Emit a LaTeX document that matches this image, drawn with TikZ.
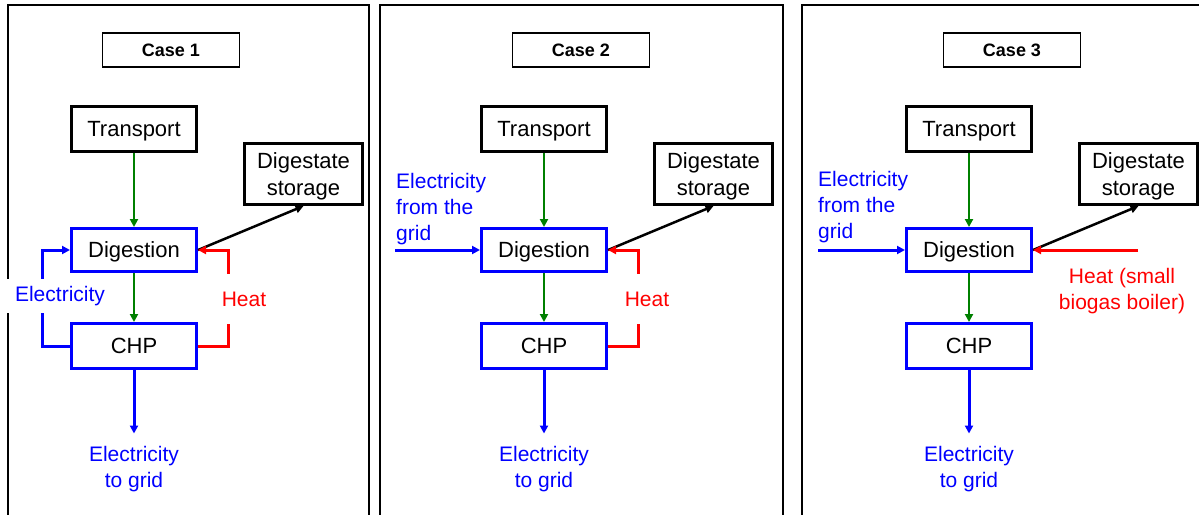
\documentclass[tikz,border=0pt]{standalone}
\usepackage{fontspec}
\setmainfont{Liberation Sans}
\usetikzlibrary{arrows.meta}
\definecolor{cblue}{RGB}{0,0,255}
\definecolor{cgreen}{RGB}{0,128,0}
\definecolor{cred}{RGB}{255,0,0}
\begin{document}
\begin{tikzpicture}[x=1pt,y=-1pt,
  frame/.style={draw=black, line width=1.5pt},
  casebox/.style={draw=black, line width=1.2pt, minimum width=137pt, minimum height=34pt, font=\fontsize{18}{22}\selectfont\bfseries, inner sep=0pt, text depth=0pt},
  blackbox/.style={draw=black, line width=3pt, minimum width=125pt, minimum height=45pt, font=\fontsize{22}{27}\selectfont, align=center, inner sep=0pt, text depth=0pt},
  bluebox/.style={draw=cblue, line width=3pt, minimum width=125pt, minimum height=43pt, font=\fontsize{22}{27}\selectfont, inner sep=0pt, text depth=0pt},
  lbl/.style={font=\fontsize{21}{26}\selectfont, align=center, inner sep=0pt},
  tipx/.style={-{Triangle[length=8pt,width=8pt]}},
  garrow/.style={draw=cgreen, line width=2pt, tipx},
  barrow/.style={draw=cblue, line width=3pt, tipx},
  rarrow/.style={draw=cred, line width=3pt, tipx},
  karrow/.style={draw=black, line width=2.5pt, tipx}
]
\useasboundingbox (0,0) rectangle (1199,514);
\begin{scope}
  \clip (0,0) rectangle (1199,514);
  \draw[frame] (8,5) rectangle (369,540);
  \draw[frame] (380,5) rectangle (783,540);
  \draw[frame] (802,5) rectangle (1230,540);
\end{scope}

\foreach \o/\n/\cx in {0/1/171, 410/2/581, 835/3/1012}{
  \node[casebox] (case\n) at (\cx,50) {Case \n};
  \node[blackbox] (t\n) at (\o+134,129) {Transport};
  \node[blackbox, minimum width=118pt, minimum height=61pt] (s\n) at (\o+303.5,174) {Digestate\\storage};
  \node[bluebox] (d\n) at (\o+134,250) {Digestion};
  \node[bluebox, minimum height=45pt] (c\n) at (\o+134,346) {CHP};
  \node[lbl, text=cblue, inner ysep=12.5pt] (g\n) at (\o+134,469) {Electricity\\to grid};
  \draw[garrow] (t\n) -- (d\n);
  \draw[garrow] (d\n) -- (c\n);
  \draw[barrow] (c\n) -- (g\n);
  \draw[karrow] (d\n.east) -- (s\n.south);
}

% Case 1 loops
\coordinate (e1) at (42,298);
\draw[barrow] (c1.west) -| (e1) |- (d1.west);
\node[lbl, text=cblue, fill=white, inner xsep=8pt, inner ysep=7pt] (el1) at (60,296) {Electricity};
\coordinate (h1) at (228,298);
\draw[rarrow] (c1.east) -| (h1) |- (d1.east);
\node[lbl, text=cred, fill=white, inner xsep=3pt, inner ysep=18pt] (hl1) at (244,299) {Heat};

% Case 2
\coordinate (ein2) at (395,250);
\draw[barrow] (ein2) -- (d2);
\node[lbl, text=cblue, align=left, anchor=west] (el2) at (396,209) {Electricity\\from the\\grid};
\coordinate (h2) at (638,298);
\draw[rarrow] (c2.east) -| (h2) |- (d2.east);
\node[lbl, text=cred, fill=white, inner xsep=3pt, inner ysep=18pt] (hl2) at (647,299) {Heat};

% Case 3
\coordinate (ein3) at (818,250);
\draw[barrow] (ein3) -- (d3);
\node[lbl, text=cblue, align=left, anchor=west] (el3) at (818,207) {Electricity\\from the\\grid};
\coordinate (hin3) at (1138,250);
\draw[rarrow] (hin3) -- (d3);
\node[lbl, text=cred] (hl3) at (1122,291) {Heat (small\\biogas boiler)};
\end{tikzpicture}
\end{document}
